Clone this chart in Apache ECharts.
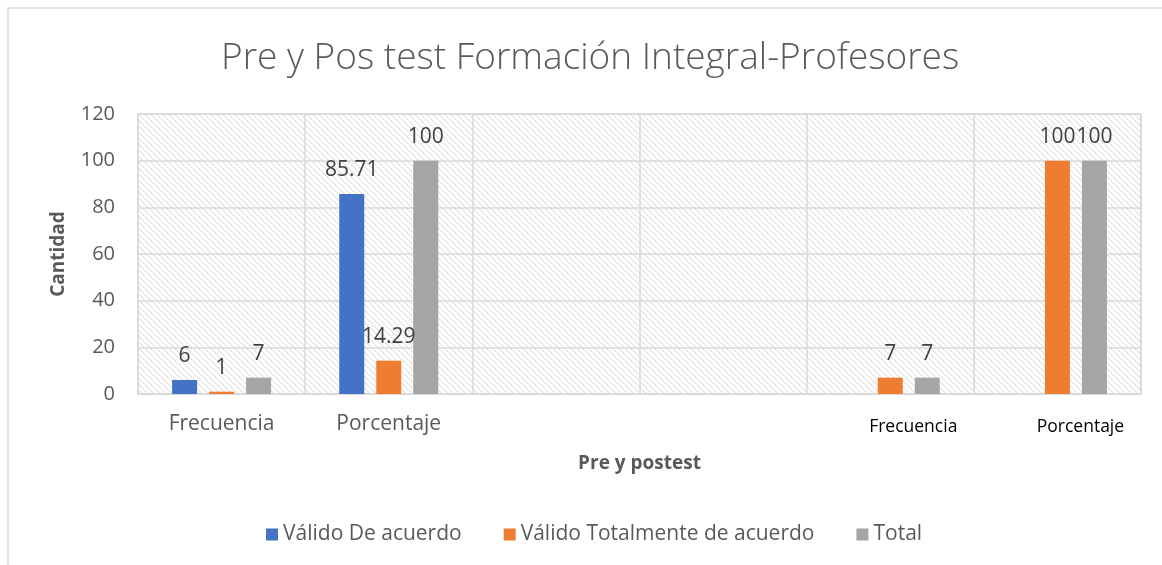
<!DOCTYPE html>
<html>
<head>
<meta charset="utf-8">
<script src="https://cdn.jsdelivr.net/npm/echarts@6/dist/echarts.min.js"></script>
<style>
html,body{margin:0;padding:0;background:#fff;}
#chart{width:1162px;height:565px;}
</style>
</head>
<body>
<div id="chart"></div>
<script>
// ---- data ----
const titleText = 'Pre y Pos test Formación Integral-Profesores';
const categoryLabels = ['Frecuencia', 'Porcentaje', '', '', 'Frecuencia', 'Porcentaje'];
const seriesNames = ['Válido De acuerdo', 'Válido Totalmente de acuerdo', 'Total'];
const validoDeAcuerdo = [6, 85.71, null, null, null, null];
const validoTotalmente = [1, 14.29, null, null, 7, 100];
const totalValues = [7, 100, null, null, 7, 100];
const yTicks = { min: 0, max: 120, interval: 20 };
const yAxisName = 'Cantidad';
const xAxisName = 'Pre y postest';

// ---- hatch pattern ----
function makeHatch() {
  const size = 6;
  const c = document.createElement('canvas');
  c.width = size; c.height = size;
  const ctx = c.getContext('2d');
  const img = ctx.createImageData(size, size);
  for (let y = 0; y < size; y++) {
    for (let x = 0; x < size; x++) {
      const d = ((x - y) % size + size) % size;
      let v = 255;
      if (d === 0) v = ((x + y) % 4 === 0) ? 236 : 218;
      else if (d === 1) v = 238;
      const i = (y * size + x) * 4;
      img.data[i] = v; img.data[i + 1] = v; img.data[i + 2] = v; img.data[i + 3] = 255;
    }
  }
  ctx.putImageData(img, 0, 0);
  return c;
}

const FONT = '"Open Sans", "Noto Sans", sans-serif';
const chart = echarts.init(document.getElementById('chart'), null, { renderer: 'canvas' });
const colors = ['#4472C4', '#ED7D31', '#A5A5A5'];

function barSeries(name, data, color) {
  return {
    name: name,
    type: 'bar',
    data: data,
    barWidth: 25,
    barGap: '48%',
    itemStyle: { color: color },
    label: {
      show: true,
      position: 'top',
      distance: 13,
      fontFamily: FONT,
      fontSize: 21,
      color: '#404040',
      formatter: p => (p.value == null ? '' : String(p.value))
    }
  };
}

chart.setOption({
  animation: false,
  backgroundColor: '#fff',
  textStyle: { fontFamily: FONT },
  graphic: [{
    type: 'rect',
    shape: { x: 8, y: 8, width: 1300, height: 700 },
    style: { fill: 'none', stroke: '#d9d9d9', lineWidth: 1.5 },
    silent: true,
    z: -1
  }],
  title: {
    text: titleText,
    left: 216,
    top: 35,
    textStyle: { fontFamily: FONT, fontSize: 37, fontWeight: 300, color: '#595959' }
  },
  legend: {
    left: 266,
    top: 524,
    padding: 0,
    icon: 'rect',
    itemWidth: 12,
    itemHeight: 12,
    itemGap: 42,
    textStyle: { fontFamily: FONT, fontSize: 21, color: '#595959' },
    data: seriesNames
  },
  grid: {
    left: 138,
    right: 21,
    top: 114,
    bottom: 171,
    show: true,
    backgroundColor: { image: makeHatch(), repeat: 'repeat' },
    borderColor: '#d9d9d9',
    borderWidth: 1.5
  },
  xAxis: {
    type: 'category',
    data: categoryLabels.map((_, i) => 'c' + i),
    name: xAxisName,
    nameLocation: 'middle',
    nameGap: 60,
    nameTextStyle: { fontFamily: FONT, fontSize: 19, fontWeight: 'bold', color: '#595959' },
    axisLine: { show: true, lineStyle: { color: '#d9d9d9', width: 1.5 } },
    axisTick: { show: false },
    splitLine: { show: true, lineStyle: { color: '#d9d9d9', width: 1.5 } },
    axisLabel: {
      interval: 0,
      margin: 20,
      fontFamily: FONT,
      fontSize: 21,
      color: '#595959',
      formatter: (v, i) => {
        const t = categoryLabels[i];
        if (!t) return '';
        return i >= 4 ? '{p|' + t + '}' : t;
      },
      rich: {
        p: { fontFamily: FONT, fontSize: 17.5, color: '#000', padding: [4, 0, 0, 46] }
      }
    }
  },
  yAxis: {
    type: 'value',
    min: yTicks.min,
    max: yTicks.max,
    interval: yTicks.interval,
    name: yAxisName,
    nameLocation: 'middle',
    nameGap: 70,
    nameTextStyle: { fontFamily: FONT, fontSize: 19, fontWeight: 'bold', color: '#595959' },
    axisLine: { show: false },
    axisTick: { show: false },
    splitLine: { show: true, lineStyle: { color: '#d9d9d9', width: 1.5 } },
    axisLabel: { margin: 23, fontFamily: FONT, fontSize: 20, color: '#595959' }
  },
  series: [
    barSeries(seriesNames[0], validoDeAcuerdo, colors[0]),
    barSeries(seriesNames[1], validoTotalmente, colors[1]),
    barSeries(seriesNames[2], totalValues, colors[2])
  ]
});
</script>
</body>
</html>
